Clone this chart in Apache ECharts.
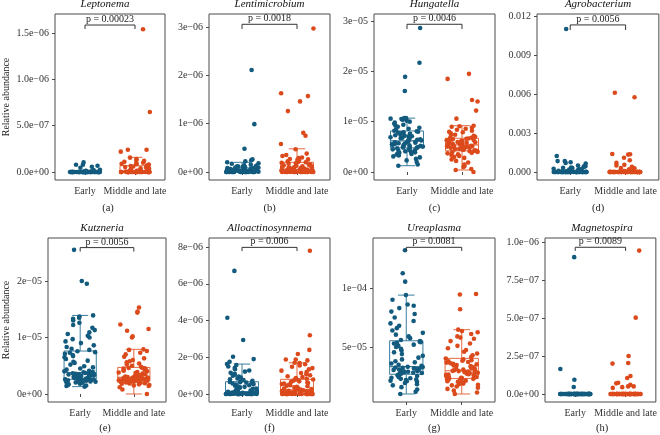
<!DOCTYPE html>
<html><head><meta charset="utf-8">
<script src="https://cdn.jsdelivr.net/npm/echarts@6/dist/echarts.min.js"></script>
<style>html,body{margin:0;padding:0;background:#fff}#c{width:660px;height:435px}</style>
</head><body><div id="c"></div><script>
// ---------------- DATA ----------------
const categories = ['Early', 'Middle and late'];
const genera = ['Leptonema', 'Lentimicrobium', 'Hungatella', 'Agrobacterium', 'Kutzneria', 'Alloactinosynnema', 'Ureaplasma', 'Magnetospira'];
const panelTags = ['(a)', '(b)', '(c)', '(d)', '(e)', '(f)', '(g)', '(h)'];
const pLabels = ['p = 0.00023', 'p = 0.0018', 'p = 0.0046', 'p = 0.0056', 'p = 0.0056', 'p = 0.006', 'p = 0.0081', 'p = 0.0089'];
const yAxisTitle = 'Relative abundance';
// unit of the stored values for each panel
const valueUnits = [1e-8, 1e-8, 1e-6, 1e-4, 1e-6, 1e-7, 1e-6, 1e-8];
// tick values (in stored units) and tick labels
const yTickValues = [[0,50,100,150],[0,100,200,300],[0,10,20,30],[0,30,60,90,120],[0,10,20],[0,20,40,60,80],[50,100],[0,25,50,75,100]];
const yTickLabels = [
  ['0.0e+00','5.0e\u221207','1.0e\u221206','1.5e\u221206'],
  ['0e+00','1e\u221206','2e\u221206','3e\u221206'],
  ['0e+00','1e\u221205','2e\u221205','3e\u221205'],
  ['0.000','0.003','0.006','0.009','0.012'],
  ['0e+00','1e\u221205','2e\u221205'],
  ['0e+00','2e\u221206','4e\u221206','6e\u221206','8e\u221206'],
  ['5e\u221205','1e\u221204'],
  ['0.0e+00','2.5e\u221207','5.0e\u221207','7.5e\u221207','1.0e\u221206']
];

// (a) Leptonema, x1e-8
const leptonemaEarly = [0,0,0,0,0,0,0,0,0,0,0,0,0,0,0,0,0,0,0,0,0,0,0,0,0,0,0,0,0,0,0,0,0,0,0,0,0,0,0,0,0,0,0,0,0,0,0,0,0,0,0,0,0,0,0,0,0.3,0.5,0.8,1.0,1.2,1.5,2.0,2.5,4.6,5.7,6.8,7.9,7.9,10.4];
const leptonemaMiddle = [0,0,0,0,0,0,0,0,0,0,0,0,0,0,0,0,0,0,0,0,0,0,0,0,0,0,0,0,0,0,0,0,0,0,0,0,0.3,0.5,0.8,1.0,1.2,1.5,2.0,2.5,3.0,3.5,4.0,4.5,5.0,5.5,6.0,6.5,7.0,7.5,8.0,8.5,9.0,9.5,10.0,11.0,12.0,13.0,14.0,15.5,22.0,24.0,24.0,64.7,154.0];
// (b) Lentimicrobium, x1e-8
const lentimicrobiumEarly = [0,0,0,0,0,0,0,0,0,0,0,0,0,0,0,0,0,0.1,0.2,0.2,0.3,0.3,0.5,0.5,0.5,0.8,0.8,1,1,1,1,1,1.5,1.5,1.5,2,2,2,2,2,2,3,3,3,3,3,4,4,4,4,5,5,5,6,6,6,7,7,8,8,9,9,10,10,11,12,13,14,15,17,18,20,22,24,26,48,99,211];
const lentimicrobiumMiddle = [0,0,0,0,0,0,0,0,0,0,0,0,0,0,0,0,0.2,0.3,0.5,0.5,1,1,1,1.5,2,2,2,3,3,3,4,4,4,5,5,5,6,6,7,7,8,8,9,9,10,10,11,12,13,14,15,16,17,18,19,20,21,22,24,25,26,27,29,30,33,35,38,47,58,75,81,126,146,157,163,297];
// (c) Hungatella, x1e-6
const hungatellaEarly = [1.25,1.5,2.0,2.3,2.6,2.9,3.1,3.3,3.5,3.6,3.8,3.9,4.0,4.1,4.2,4.3,4.4,4.5,4.6,4.7,4.8,4.85,4.9,5.0,5.05,5.1,5.2,5.3,5.35,5.4,5.5,5.55,5.6,5.7,5.8,5.85,5.9,6.0,6.1,6.15,6.25,6.3,6.4,6.5,6.6,6.7,6.8,6.9,7.0,7.1,7.2,7.3,7.4,7.5,7.6,7.7,7.8,7.9,8.0,8.1,8.2,8.4,8.6,8.8,9.0,9.2,9.4,9.6,9.8,10.0,10.2,10.4,10.5,10.6,10.7,10.7,16.1,18.9,21.7,28.6];
const hungatellaMiddle = [0,0.4,0.6,1.0,1.2,1.5,1.9,2.2,2.5,2.8,3.0,3.2,3.4,3.5,3.7,3.8,3.9,4.0,4.1,4.15,4.2,4.25,4.3,4.4,4.45,4.5,4.6,4.65,4.7,4.8,4.85,4.9,5.0,5.05,5.1,5.15,5.2,5.25,5.3,5.35,5.45,5.5,5.55,5.6,5.7,5.75,5.8,5.9,5.95,6.0,6.1,6.15,6.2,6.3,6.35,6.4,6.5,6.55,6.6,6.65,6.8,6.9,7.0,7.2,7.4,7.5,7.7,7.9,8.0,8.2,8.4,8.6,8.8,9.0,9.1,9.2,10.6,12.2,14.0,14.3,18.5,19.5];
// (d) Agrobacterium, x1e-4
const agrobacteriumEarly = [0,0,0,0,0,0,0,0,0,0,0,0,0,0,0,0,0,0,0,0,0,0,0,0,0,0,0,0,0,0,0,0,0,0,0,0,0,0,0,0,0,0,0,0,0,0.1,0.1,0.2,0.2,0.3,0.4,0.5,0.6,0.8,1.0,1.2,1.5,1.8,2.0,2.2,2.5,3.0,3.2,3.5,4.0,4.2,4.5,5.0,6.5,7.0,7.5,8.4,8.5,12.3,110];
const agrobacteriumMiddle = [0,0,0,0,0,0,0,0,0,0,0,0,0,0,0,0,0,0,0,0,0,0,0,0,0,0,0,0,0,0,0,0,0,0,0,0,0,0,0,0,0,0,0,0,0,0,0,0,0,0,0.1,0.2,0.3,0.5,0.8,1.0,1.5,2.0,2.8,3.0,4.0,5.0,5.5,7.0,9.0,11.0,13.4,13.6,13.8,61,57.5];
// (e) Kutzneria, x1e-6
const kutzneriaEarly = [1.3,1.4,1.5,1.6,1.7,1.8,1.9,2.0,2.05,2.1,2.15,2.2,2.25,2.3,2.35,2.4,2.45,2.5,2.55,2.58,2.6,2.65,2.7,2.8,2.85,2.9,3.0,3.05,3.1,3.2,3.25,3.3,3.4,3.45,3.5,3.55,3.6,3.65,3.7,3.75,3.85,3.9,4.0,4.1,4.3,4.5,4.7,4.9,5.2,5.5,5.7,5.9,6.2,6.5,6.7,6.9,7.1,7.3,7.4,7.55,7.8,8.0,8.3,8.6,9.0,9.3,9.7,10.0,10.3,10.6,10.9,11.3,11.7,12.2,12.6,13.0,13.3,13.5,13.7,13.9,19.5,20.0,25.5];
const kutzneriaMiddle = [0,0.8,1.2,1.4,1.5,1.6,1.7,1.8,1.85,1.9,1.95,2.0,2.05,2.1,2.15,2.2,2.25,2.28,2.3,2.33,2.38,2.4,2.42,2.45,2.48,2.5,2.53,2.56,2.6,2.63,2.66,2.7,2.73,2.76,2.8,2.83,2.86,2.89,2.92,2.94,3.0,3.05,3.1,3.2,3.3,3.4,3.5,3.6,3.7,3.8,3.9,4.0,4.1,4.2,4.3,4.4,4.5,4.55,4.6,4.65,4.8,5.0,5.2,5.4,5.6,5.8,6.0,6.3,6.6,7.0,7.3,7.6,7.8,7.9,10.0,10.2,11.2,11.5,12.3,14.4,14.6,15.3];
// (f) Alloactinosynnema, x1e-7
const alloactinosynnemaEarly = [0,0,0,0,0,0,0,0,0,0,0,0,0,0,0,0,0,0,0,0,0.1,0.2,0.3,0.3,0.4,0.5,0.5,0.6,0.7,0.8,0.8,0.9,1.0,1.0,1.1,1.2,1.4,1.6,1.9,2.2,2.5,2.8,3.0,3.3,3.6,3.9,4.2,4.5,4.8,5.1,5.4,5.7,6.0,6.2,6.4,6.6,6.9,7.2,7.6,8.0,8.5,9.0,9.5,10.0,10.5,11.0,11.6,12.2,12.8,13.5,14.2,15.0,15.8,16.3,17.5,19.0,20.3,29.4,41.5,67];
const alloactinosynnemaMiddle = [0,0,0,0,0,0,0,0,0,0,0,0,0,0,0,0,0,0,0,0,0.2,0.3,0.4,0.5,0.6,0.7,0.8,0.9,1.0,1.1,1.2,1.3,1.4,1.5,1.6,1.7,1.8,1.9,2.0,2.1,2.4,2.7,3.0,3.3,3.6,3.9,4.2,4.5,4.8,5.1,5.4,5.7,6.0,6.3,6.6,6.9,7.2,7.5,7.8,7.9,8.3,8.7,9.2,9.7,10.2,10.8,11.4,12.0,12.7,13.4,14.1,14.8,15.5,16.2,16.8,17.0,18.3,18.8,18.8,21.8,24,32,78];
// (g) Ureaplasma, x1e-6
const ureaplasmaEarly = [10.2,12,14,16,17.5,18.5,19.5,20.5,21,21.5,22,22.5,23,23.5,24,24.5,25,25.5,26,26.5,27,27.3,27.6,28,28.3,28.6,29,29.3,29.6,30,30.3,30.6,31,31.3,31.6,32,32.3,32.6,33,33.2,34,35,36,37,38,39.5,41,42.5,44,45.5,47,48.5,50,51,52,53,53.5,54,54.5,55,56,57.5,59,60.5,62,64,66,68,70,72,75,78,80,83,85,86,90,94,105.4,112.5,132];
const ureaplasmaMiddle = [10.2,11.5,13,14.5,15.5,16.5,17.5,18,18.5,19,19.5,20,20.5,21,21.5,22,22.3,22.6,23,23.2,23.6,24,24.3,24.6,25,25.3,25.7,26,26.4,26.7,27,27.4,27.8,28.1,28.4,28.7,29,29.3,29.6,29.8,30.3,30.8,31.3,31.8,32.3,32.8,33.3,33.8,34.3,34.8,35.3,35.8,36.3,36.8,37.3,37.8,38.3,38.8,39.5,40.2,41.5,43,44.5,46,47.5,49,51,53,55,57,58,59,61,62.5,63.5,64.7,82,94.5,95];
// (h) Magnetospira, x1e-8
const magnetospiraEarly = [0,0,0,0,0,0,0,0,0,0,0,0,0,0,0,0,0,0,0,0,0,0,0,0,0,0,0,0,0,0,0,0,0,0,0,0,0,0,0,0,0,0,0,0,0,0,0,0,0,0,0,0,0,0,0,0,0,0,0,0,0,0,0,0,0,0,0,0,0,0,0,0,4.6,9.4,16.4,90];
const magnetospiraMiddle = [0,0,0,0,0,0,0,0,0,0,0,0,0,0,0,0,0,0,0,0,0,0,0,0,0,0,0,0,0,0,0,0,0,0,0,0,0,0,0,0,0,0,0,0,0,0,0,0,0,0,0,0,0,0,0,0,0,0,0,0,0,0,4,4.5,5,5,6,7,7.4,10.5,11.8,20,20.4,25,50.2,94.3];

// box statistics: [lower whisker, Q1, median, Q3, upper whisker]
const boxEarly = [[0,0,0,0,0],[0,0,2,8,20],[1.25,4.8,6.2,8.15,10.7],[0,0,0,0,0],[1.3,2.6,3.8,7.6,13.9],[0,0,1.25,6.7,16.3],[10.2,26.9,33.3,55.3,94],[0,0,0,0,0]];
const boxMiddle = [[0,0,0.5,6.8,15.9],[0,0.5,5,20,48],[0.4,4.2,5.4,6.7,9.2],[0,0,0,0.3,0.8],[0,2.35,2.95,4.7,7.9],[0,0,2.2,8,17],[10.2,23.4,29.9,40.4,64.7],[0,0,0,0,0]];

const earlySeries = [leptonemaEarly, lentimicrobiumEarly, hungatellaEarly, agrobacteriumEarly, kutzneriaEarly, alloactinosynnemaEarly, ureaplasmaEarly, magnetospiraEarly];
const middleSeries = [leptonemaMiddle, lentimicrobiumMiddle, hungatellaMiddle, agrobacteriumMiddle, kutzneriaMiddle, alloactinosynnemaMiddle, ureaplasmaMiddle, magnetospiraMiddle];

// ---------------- LAYOUT / STYLE ----------------
const FONT = "'Liberation Serif', 'DejaVu Serif', serif";
const BLUE = '#125a7e', ORANGE = '#dc4a1c';
const BLUE_BOX = '#3a7d9e', ORANGE_BOX = '#e6683f';
const TXT = '#333';
// [left, top, width, height] per panel
const gridRects = [[51,14,114,166],[209,14,121,166],[374,14,121,166],[537,14,122,166],[44,238,122,164],[209,238,121,164],[373,238,122,164],[545,238,114,164]];
// y axis ranges (stored units)
const yRanges = [[-8.6,170.5],[-16.6,326.9],[-1.59,31.39],[-6.15,121.5],[-1.42,27.6],[-4.35,84.9],[3.4,142.4],[-5.26,102.6]];
// significance bracket: [bar level, tick end] in stored units
const bracketLevels = [[158.6,154.3],[305.6,295.9],[29.35,28.4],[113.1,109.2],[25.9,25.2],[79.8,77.8],[134.5,131.4],[96.5,94.1]];

function jitter(i, k) { // deterministic horizontal spread within +/-0.3 category units
  const s = Math.sin((i + 1) * 12.9898 + (k + 1) * 78.233 + 0.5) * 43758.5453;
  return ((s - Math.floor(s)) - 0.5) * 0.6;
}

const grid = [], xAxis = [], yAxis = [], series = [], graphic = [];
for (let p = 0; p < 8; p++) {
  const [l, t, w, h] = gridRects[p];
  grid.push({left: l, top: t, width: w, height: h, show: true, borderColor: '#4a4a4a', borderWidth: 1, backgroundColor: '#fff', containLabel: false});
  xAxis.push({gridIndex: p, type: 'value', min: 0.4, max: 2.6,
    splitLine: {show: false}, axisLine: {show: false},
    axisTick: {show: true, customValues: [1, 2], length: 3, lineStyle: {color: '#4a4a4a'}},
    axisLabel: {customValues: [1, 2], formatter: v => categories[Math.round(v) - 1], margin: 6, fontSize: 10, fontFamily: FONT, color: TXT}
  });
  const ticks = yTickValues[p], labs = yTickLabels[p];
  const yA = {gridIndex: p, type: 'value', min: yRanges[p][0], max: yRanges[p][1],
    splitLine: {show: false}, axisLine: {show: false},
    axisTick: {show: true, customValues: ticks, length: 3, lineStyle: {color: '#4a4a4a'}},
    axisLabel: {customValues: ticks, margin: 6, fontSize: 10, fontFamily: FONT, color: TXT,
      formatter: v => { let bi = 0; ticks.forEach((tv, i) => { if (Math.abs(tv - v) < Math.abs(ticks[bi] - v)) bi = i; }); return labs[bi]; }}
  };
  if (p === 0 || p === 4) {
    yA.name = yAxisTitle; yA.nameLocation = 'middle'; yA.nameGap = l - 7;
    yA.nameTextStyle = {fontSize: 10, fontFamily: FONT, color: '#222'};
  }
  yAxis.push(yA);

  // boxes
  series.push({type: 'custom', xAxisIndex: p, yAxisIndex: p, z: 2, silent: true,
    data: [[1].concat(boxEarly[p]), [2].concat(boxMiddle[p])],
    encode: {x: 0, y: [1, 2, 3, 4, 5]},
    renderItem: (params, api) => {
      const x = api.value(0), lo = api.value(1), q1 = api.value(2), med = api.value(3), q3 = api.value(4), hi = api.value(5);
      const col = x === 1 ? BLUE_BOX : ORANGE_BOX;
      const st = {stroke: col, lineWidth: 1, fill: null};
      const a = api.coord([x - 0.3, q3]), b = api.coord([x + 0.3, q1]);
      const m1 = api.coord([x - 0.3, med]), m2 = api.coord([x + 0.3, med]);
      const wl = api.coord([x, lo]), w1 = api.coord([x, q1]), w3 = api.coord([x, q3]), wh = api.coord([x, hi]);
      const ch1 = api.coord([x - 0.15, hi]), ch2 = api.coord([x + 0.15, hi]);
      const cl1 = api.coord([x - 0.15, lo]), cl2 = api.coord([x + 0.15, lo]);
      const ch = [
        {type: 'line', shape: {x1: w3[0], y1: w3[1], x2: wh[0], y2: wh[1]}, style: st},
        {type: 'line', shape: {x1: w1[0], y1: w1[1], x2: wl[0], y2: wl[1]}, style: st},
        {type: 'line', shape: {x1: ch1[0], y1: ch1[1], x2: ch2[0], y2: ch2[1]}, style: st},
        {type: 'line', shape: {x1: cl1[0], y1: cl1[1], x2: cl2[0], y2: cl2[1]}, style: st},
        {type: 'rect', shape: {x: a[0], y: a[1], width: b[0] - a[0], height: Math.max(0, b[1] - a[1])}, style: {stroke: col, lineWidth: 1, fill: '#fff'}},
        {type: 'line', shape: {x1: m1[0], y1: m1[1], x2: m2[0], y2: m2[1]}, style: {stroke: col, lineWidth: 1.2}}
      ];
      return {type: 'group', children: ch};
    }
  });
  // points
  series.push({type: 'scatter', xAxisIndex: p, yAxisIndex: p, z: 3, symbol: 'circle', symbolSize: 4.6, silent: true,
    itemStyle: {color: BLUE, opacity: 1},
    data: earlySeries[p].map((v, i) => [1 + jitter(i, 2 * p), v])});
  series.push({type: 'scatter', xAxisIndex: p, yAxisIndex: p, z: 3, symbol: 'circle', symbolSize: 4.6, silent: true,
    itemStyle: {color: ORANGE, opacity: 1},
    data: middleSeries[p].map((v, i) => [2 + jitter(i, 2 * p + 1), v])});
  // significance bracket
  series.push({type: 'custom', xAxisIndex: p, yAxisIndex: p, z: 4, silent: true,
    data: [[bracketLevels[p][0], bracketLevels[p][1], p]],
    encode: {y: [0, 1]},
    renderItem: (params, api) => {
      const lev = api.value(0), te = api.value(1), idx = api.value(2);
      const p1 = api.coord([1, te]), p2 = api.coord([1, lev]), p3 = api.coord([2, lev]), p4 = api.coord([2, te]);
      return {type: 'group', children: [
        {type: 'polyline', shape: {points: [p1, p2, p3, p4]}, style: {stroke: '#333', lineWidth: 1, fill: null}},
        {type: 'text', style: {text: pLabels[idx], x: (p2[0] + p3[0]) / 2, y: p2[1] - 0.5, align: 'center', verticalAlign: 'bottom', fontSize: 10, fontFamily: FONT, fill: '#222'}}
      ]};
    }
  });
  // title and tag
  const cx = l + w / 2;
  graphic.push({type: 'text', x: cx - (p % 4 === 0 ? 3 : 0), y: t - 10, silent: true,
    style: {text: genera[p], align: 'center', verticalAlign: 'middle', fontSize: 11, fontStyle: 'italic', fontFamily: FONT, fill: '#111'}});
  graphic.push({type: 'text', x: cx, y: t + h + (p < 4 ? 28 : 26), silent: true,
    style: {text: panelTags[p], align: 'center', verticalAlign: 'middle', fontSize: 10.5, fontFamily: FONT, fill: '#222'}});
}

const chart = echarts.init(document.getElementById('c'), null, {renderer: 'canvas'});
chart.setOption({animation: false, backgroundColor: '#fff', grid, xAxis, yAxis, series, graphic});
</script></body></html>
